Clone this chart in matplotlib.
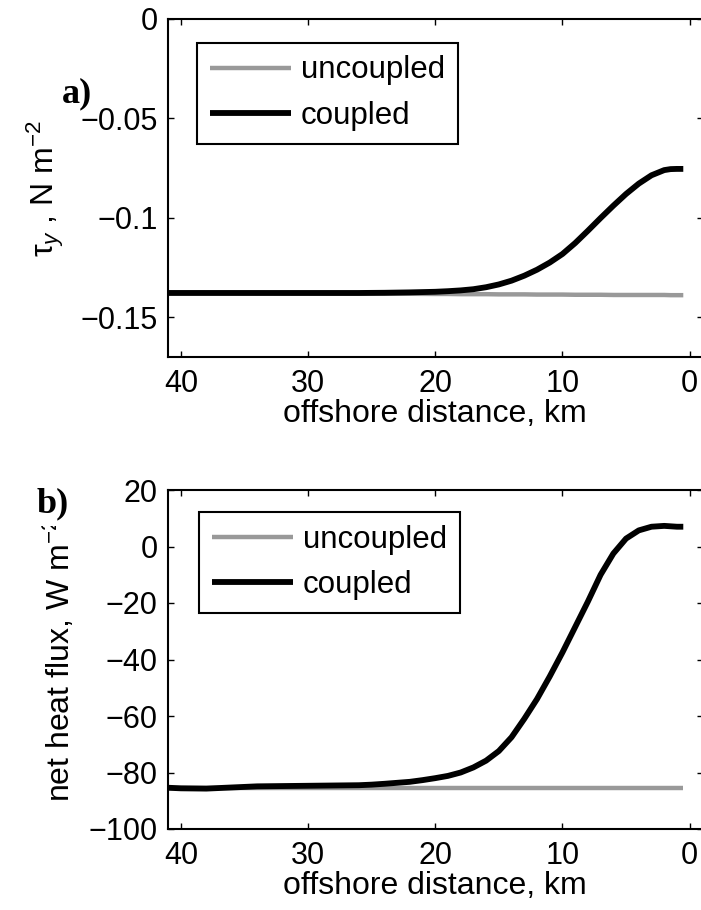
import matplotlib
matplotlib.use("Agg")
import matplotlib.pyplot as plt
from matplotlib.patches import Rectangle

# ---------------- data ----------------
dist_a = [41, 38, 35, 32, 29, 26, 24, 22, 20, 19, 18, 17, 16, 15, 14, 13, 12,
          11, 10, 9, 8, 7, 6, 5, 4, 3, 2, 1.5, 1, 0.5]
tau_coupled = [-0.1378, -0.1378, -0.1378, -0.1378, -0.1378, -0.1378, -0.1377,
               -0.1375, -0.1372, -0.1369, -0.1365, -0.1359, -0.1349, -0.1335,
               -0.1316, -0.1291, -0.1261, -0.1225, -0.1182, -0.1127, -0.1065,
               -0.1001, -0.0939, -0.0880, -0.0828, -0.0786, -0.0760, -0.0755,
               -0.0754, -0.0754]
tau_uncoupled = [-0.1376, -0.1377, -0.1378, -0.1379, -0.1380, -0.1381, -0.1382,
                 -0.1382, -0.1383, -0.1383, -0.1384, -0.1384, -0.1384, -0.1385,
                 -0.1385, -0.1385, -0.1386, -0.1386, -0.1386, -0.1387, -0.1387,
                 -0.1387, -0.1388, -0.1388, -0.1388, -0.1388, -0.1388, -0.1389,
                 -0.1389, -0.1389]

dist_b = [41, 40, 38, 36, 34, 32, 30, 28, 26, 25, 24, 22, 21, 20, 19, 18, 17,
          16, 15, 14, 13, 12, 11, 10, 9, 8, 7, 6, 5, 4, 3, 2, 1, 0.5]
heat_coupled = [-85.4, -85.6, -85.7, -85.3, -84.9, -84.8, -84.7, -84.6, -84.5,
                -84.3, -84.0, -83.3, -82.7, -82.0, -81.2, -80.0, -78.2, -75.8,
                -72.4, -67.5, -61.0, -54.0, -46.0, -37.5, -28.5, -19.5, -10.0,
                -2.5, 2.8, 5.7, 7.0, 7.3, 7.0, 7.0]
heat_uncoupled = [-85.6] * len(dist_b)

xticks = [40, 30, 20, 10, 0]
yticks_a = [0, -0.05, -0.1, -0.15]
yticks_b = [20, 0, -20, -40, -60, -80, -100]

# ---------------- style ----------------
plt.rcParams['font.family'] = ['Liberation Sans', 'DejaVu Sans']
plt.rcParams['mathtext.fontset'] = 'custom'
plt.rcParams['mathtext.rm'] = 'Liberation Sans'
plt.rcParams['mathtext.it'] = 'Liberation Sans:italic'
FS_TICK = 22
FS_LAB = 23
FS_LEG = 22.5

fig = plt.figure(figsize=(7.01, 9.10), dpi=100)
W, H = 701, 910

def ax_rect(l, r, t, b):
    return [l / W, 1 - b / H, (r - l) / W, (b - t) / H]

AX_L, AX_R = 167.5, 703
ax_a = fig.add_axes(ax_rect(AX_L, AX_R, 19, 357))
ax_b = fig.add_axes(ax_rect(AX_L, AX_R, 490, 829))

GRAY = '#999999'

def style(ax):
    for s in ax.spines.values():
        s.set_linewidth(1.5)
    ax.tick_params(direction='in', length=4, width=1.0, top=True, right=True,
                   labelsize=FS_TICK)
    ax.tick_params(axis='y', pad=7)
    ax.tick_params(axis='x', pad=9)
    ax.set_xlim(41.05, -1.05)
    ax.set_xticks(xticks)
    ax.set_xticklabels([str(v) for v in xticks])
    ax.set_xlabel('offshore distance, km', fontsize=FS_LAB, labelpad=0)

# panel a
ax_a.plot(dist_a, tau_uncoupled, color=GRAY, lw=3.2, label='uncoupled',
          solid_capstyle='butt')
ax_a.plot(dist_a, tau_coupled, color='black', lw=4.2, label='coupled',
          solid_capstyle='butt')
style(ax_a)
ax_a.set_ylim(-0.17, 0)
ax_a.set_yticks(yticks_a)
ax_a.set_yticklabels(['0', '\u22120.05', '\u22120.1', '\u22120.15'])
ax_a.set_ylabel('\u03c4$_y$ , N m$^{-2}$', fontsize=FS_LAB)
ax_a.yaxis.set_label_coords((66 - AX_L) / (AX_R - AX_L), 0.5)

# panel b
ax_b.plot(dist_b, heat_uncoupled, color=GRAY, lw=3.2, label='uncoupled',
          solid_capstyle='butt')
ax_b.plot(dist_b, heat_coupled, color='black', lw=4.2, label='coupled',
          solid_capstyle='butt')
style(ax_b)
ax_b.set_ylim(-100, 20)
ax_b.set_yticks(yticks_b)
ax_b.set_yticklabels([str(v).replace('-', '\u2212') for v in yticks_b])
ax_b.set_ylabel('net heat flux, W m$^{-2}$', fontsize=FS_LAB)
ax_b.yaxis.set_label_coords((77 - AX_L) / (AX_R - AX_L), 0.5)

for ax, anchor in ((ax_a, (0.0552, 0.929)), (ax_b, (0.0589, 0.935))):
    leg = ax.legend(loc='upper left', bbox_to_anchor=anchor, borderaxespad=0,
                    fontsize=FS_LEG, handlelength=2.6, handletextpad=0.33,
                    borderpad=0.4, labelspacing=0.5, fancybox=False,
                    framealpha=1, edgecolor='black')
    leg.get_frame().set_linewidth(1.5)

# white patch hiding the top of the lower y-label, as in the original
fig.add_artist(Rectangle((0, 1 - 526 / H), 110 / W, 86 / H,
                         transform=fig.transFigure, facecolor='white',
                         edgecolor='none', zorder=5))

fig.text(62 / W, 1 - 102 / H, 'a)', fontsize=26, fontweight='bold',
         family='Liberation Serif', ha='left', va='baseline', zorder=6)
fig.text(37 / W, 1 - 512 / H, 'b)', fontsize=26, fontweight='bold',
         family='Liberation Serif', ha='left', va='baseline', zorder=6)

fig.savefig('out.png', dpi=100)
